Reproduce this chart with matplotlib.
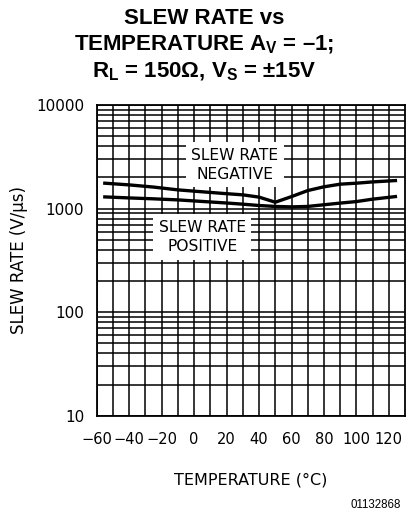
import matplotlib
matplotlib.use("Agg")
import matplotlib.pyplot as plt
import numpy as np
from matplotlib.ticker import FixedLocator, LogLocator, NullFormatter

plt.rcParams['mathtext.fontset'] = 'custom'
plt.rcParams['mathtext.rm'] = 'Liberation Sans:bold'
plt.rcParams['mathtext.it'] = 'Liberation Sans:bold'
plt.rcParams['mathtext.bf'] = 'Liberation Sans:bold'

temp = [-55, -40, -25, -10, 5, 20, 30, 40, 50, 60, 70, 80, 90, 100, 110, 124]
sr_negative = [1755, 1690, 1610, 1513, 1450, 1390, 1355, 1288, 1150, 1303, 1490, 1620, 1717, 1755, 1806, 1860]
sr_positive = [1294, 1265, 1240, 1211, 1170, 1130, 1101, 1069, 1047, 1037, 1047, 1087, 1128, 1167, 1231, 1303]

x_ticks = [-60, -40, -20, 0, 20, 40, 60, 80, 100, 120]
y_ticks = [10, 100, 1000, 10000]
y_tick_labels = ['10', '100', '1000', '10000']

fig = plt.figure(figsize=(4.08, 5.14), dpi=100)
ax = fig.add_axes([0.237, 0.191, 0.756, 0.605])
ax.set_yscale('log')
ax.set_xlim(-60, 130)
ax.set_ylim(10, 10000)

ax.set_xticks(x_ticks)
ax.set_xticklabels([str(t).replace('-', '\u2212') for t in x_ticks])
ax.xaxis.set_minor_locator(FixedLocator(np.arange(-50, 130, 10)))
ax.set_yticks(y_ticks)
ax.set_yticklabels(y_tick_labels)
ax.yaxis.set_minor_locator(LogLocator(base=10, subs=np.arange(2, 10), numticks=20))
ax.yaxis.set_minor_formatter(NullFormatter())
ax.tick_params(which='both', length=0, colors='black')
ax.tick_params(axis='x', pad=12, labelsize=10.5)
ax.tick_params(axis='y', pad=9, labelsize=11)
ax.grid(True, which='both', color='black', linewidth=1.1)
ax.set_axisbelow(True)
for s in ax.spines.values():
    s.set_linewidth(1.3)

ax.plot(temp, sr_negative, color='black', linewidth=2.4, zorder=3)
ax.plot(temp, sr_positive, color='black', linewidth=2.4, zorder=3)

bbox = dict(facecolor='white', edgecolor='none', pad=4)
ax.text(25, 2650, 'SLEW RATE\nNEGATIVE', ha='center', va='center', fontsize=11.2,
        linespacing=1.35, bbox=bbox, zorder=4)
ax.text(5, 530, 'SLEW RATE\nPOSITIVE', ha='center', va='center', fontsize=11.2,
        linespacing=1.35, bbox=bbox, zorder=4)

ax.set_ylabel('SLEW RATE (V/\u03bcs)', fontsize=12, labelpad=6)
ax.set_xlabel('TEMPERATURE (\u00b0C)', fontsize=11.5, labelpad=18)

fig.text(0.5, 1 - 18 / 514, 'SLEW RATE vs', ha='center', va='center',
         fontsize=16, fontweight='bold', family='Liberation Sans')
fig.text(0.5, 1 - 45 / 514, 'TEMPERATURE A$_\\mathrm{V}$ = \u20131;',
         ha='center', va='center', fontsize=16, fontweight='bold', family='Liberation Sans')
fig.text(0.5, 1 - 72 / 514, r'R$_\mathrm{L}$ = 150Ω, V$_\mathrm{S}$ = ±15V',
         ha='center', va='center', fontsize=16, fontweight='bold', family='Liberation Sans')

fig.text(401 / 408, 1 - 505 / 514, '01132868', ha='right', va='center', fontsize=8.3,
         family='Liberation Sans')

fig.savefig('out.png', dpi=100)
